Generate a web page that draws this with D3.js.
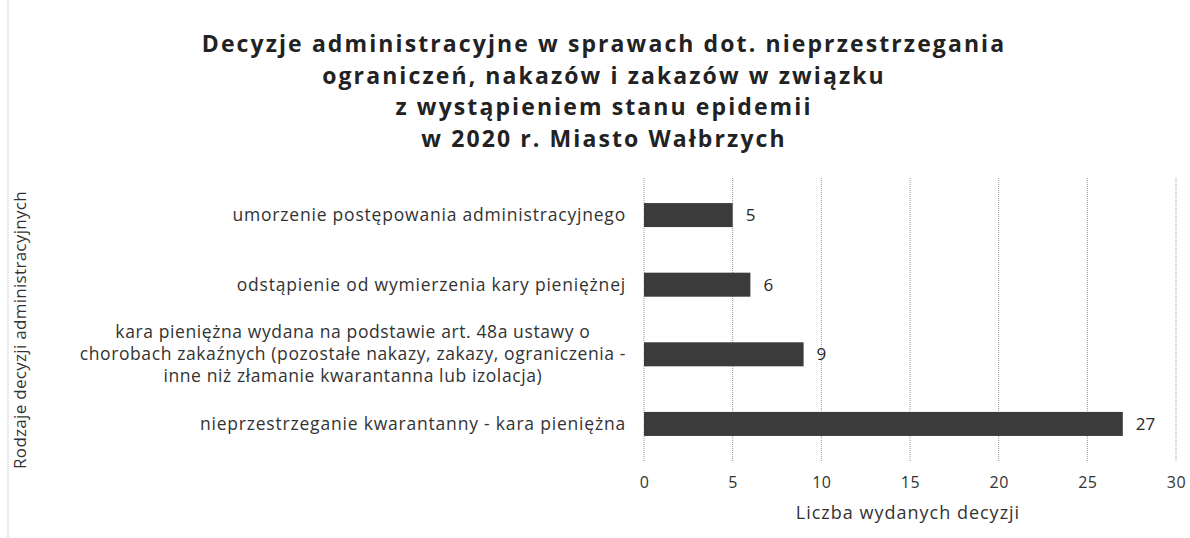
<!DOCTYPE html>
<html>
<head>
<meta charset="utf-8">
<script src="https://cdn.jsdelivr.net/npm/d3@7"></script>
<style>
  body { margin: 0; background: #fff; }
  svg { font-family: "Open Sans", sans-serif; }
</style>
</head>
<body>
<script>
// Chart size
const width = 1190;
const height = 538;
const margin = { top: 178, right: 14, bottom: 77, left: 644 };

// Data
const titleLines = [
  'Decyzje administracyjne w sprawach dot. nieprzestrzegania',
  'ograniczeń, nakazów i zakazów w związku',
  'z wystąpieniem stanu epidemii',
  'w 2020 r. Miasto Wałbrzych'
];
const categories = [
  ['umorzenie postępowania administracyjnego'],
  ['odstąpienie od wymierzenia kary pieniężnej'],
  ['kara pieniężna wydana na podstawie art. 48a ustawy o',
   'chorobach zakaźnych (pozostałe nakazy, zakazy, ograniczenia -',
   'inne niż złamanie kwarantanna lub izolacja)'],
  ['nieprzestrzeganie kwarantanny - kara pieniężna']
];
const values = [5, 6, 9, 27];
const xTicks = [0, 5, 10, 15, 20, 25, 30];
const xTitle = 'Liczba wydanych decyzji';
const yTitle = 'Rodzaje decyzji administracyjnych';

const data = categories.map((c, i) => ({ key: i, lines: c, value: values[i] }));

const svg = d3.select('body')
  .append('svg')
  .attr('width', width)
  .attr('height', height);

// left scan border
svg.append('line')
  .attr('x1', 8).attr('x2', 8).attr('y1', 0).attr('y2', height)
  .attr('stroke', '#bbb').attr('stroke-dasharray', '1,1');

// Title
svg.append('g')
  .attr('text-anchor', 'middle')
  .style('font-weight', 'bold')
  .style('font-size', '23px')
  .style('letter-spacing', '2.1px')
  .style('fill', '#222')
  .selectAll('text')
  .data(titleLines)
  .enter()
  .append('text')
  .attr('x', 604)
  .attr('y', (d, i) => 52 + i * 31.5)
  .text(d => d);

// Scales
const x = d3.scaleLinear()
  .domain([0, 30])
  .range([margin.left, width - margin.right]);

const y = d3.scaleBand()
  .domain(data.map(d => d.key))
  .range([margin.top, height - margin.bottom])
  .paddingInner(0.655)
  .paddingOuter(0.36);

// Grid
svg.append('g')
  .selectAll('line')
  .data(xTicks)
  .enter()
  .append('line')
  .attr('x1', d => x(d)).attr('x2', d => x(d))
  .attr('y1', margin.top).attr('y2', height - margin.bottom)
  .attr('stroke', '#999')
  .attr('stroke-dasharray', '1,1');

// Bars
svg.append('g')
  .selectAll('rect')
  .data(data)
  .enter()
  .append('rect')
  .attr('x', x(0))
  .attr('y', d => y(d.key))
  .attr('width', d => x(d.value) - x(0))
  .attr('height', y.bandwidth())
  .style('fill', '#3b3b3b');

// Value labels
svg.append('g')
  .style('font-size', '17px')
  .style('fill', '#262626')
  .selectAll('text')
  .data(data)
  .enter()
  .append('text')
  .attr('x', d => x(d.value) + 13)
  .attr('y', d => y(d.key) + y.bandwidth() / 2)
  .attr('dy', '0.35em')
  .text(d => d.value);

// Category labels
const labelRight = margin.left - 18;
const lineH = 22;
const catG = svg.append('g')
  .style('font-size', '17.5px')
  .style('letter-spacing', '0.8px')
  .style('fill', '#333');

data.forEach(d => {
  const cy = y(d.key) + y.bandwidth() / 2;
  const g = catG.append('g');
  const texts = g.selectAll('text')
    .data(d.lines)
    .enter()
    .append('text')
    .attr('y', (l, i) => cy + (i - (d.lines.length - 1) / 2) * lineH)
    .attr('dy', '0.35em')
    .text(l => l);
  if (d.lines.length === 1) {
    texts.attr('x', labelRight).attr('text-anchor', 'end');
  } else {
    // multi-line label: lines centred in the widest line's box
    texts.style('letter-spacing', '0.6px');
    let maxW = 0;
    texts.each(function () { maxW = Math.max(maxW, this.getComputedTextLength()); });
    texts.attr('x', labelRight - maxW / 2).attr('text-anchor', 'middle');
  }
});

// X axis
const xAxis = svg.append('g')
  .attr('transform', `translate(0, ${height - margin.bottom + 16})`)
  .call(d3.axisBottom(x).tickValues(xTicks).tickSize(0).tickPadding(0))
  .call(g => g.select('.domain').remove());
xAxis.selectAll('text')
  .style('font-family', '"Open Sans", sans-serif')
  .style('font-size', '16px')
  .style('letter-spacing', '0.5px')
  .style('fill', '#333');

// Axis titles
svg.append('text')
  .attr('x', 908)
  .attr('y', 519)
  .attr('text-anchor', 'middle')
  .style('font-size', '18px')
  .style('letter-spacing', '1px')
  .style('fill', '#333')
  .text(xTitle);

svg.append('text')
  .attr('transform', 'translate(26, 330) rotate(-90)')
  .attr('text-anchor', 'middle')
  .style('font-size', '17px')
  .style('letter-spacing', '0.3px')
  .style('fill', '#333')
  .text(yTitle);
</script>
</body>
</html>
